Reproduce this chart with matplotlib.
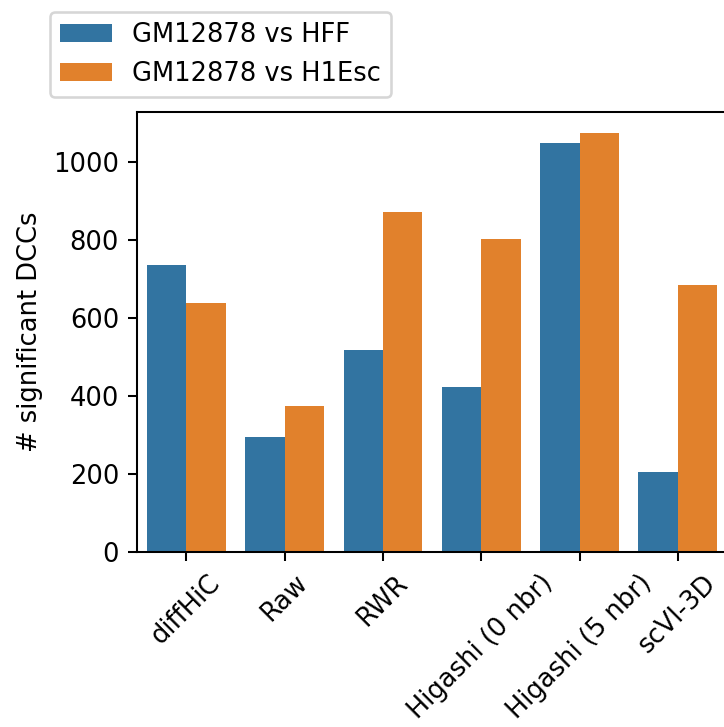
import matplotlib
matplotlib.use("Agg")
import numpy as np
import matplotlib.pyplot as plt

# values
methods = ["diffHiC", "Raw", "RWR", "Higashi (0 nbr)", "Higashi (5 nbr)", "scVI-3D"]
hff = [736, 295, 518, 423, 1047, 205]
h1esc = [639, 373, 872, 802, 1074, 685]
series_names = ["GM12878 vs HFF", "GM12878 vs H1Esc"]

colors = ["#3274a1", "#e1812c"]

# the reference looks like a default-styled figure saved at a high dpi
dpi = 185
fig = plt.figure(figsize=(724 / dpi, 727 / dpi), dpi=dpi)
ax = fig.add_axes([137 / 724, 175 / 727, 590 / 724, 440 / 727])

x = np.arange(len(methods))
w = 0.4
ax.bar(x - w / 2, hff, width=w, color=colors[0], label=series_names[0])
ax.bar(x + w / 2, h1esc, width=w, color=colors[1], label=series_names[1])

ax.set_xlim(-0.5, len(methods) - 0.5)
ax.set_ylim(0, max(hff + h1esc) * 1.05)
ax.set_xticks(x)
ax.set_xticklabels(methods, rotation=45)
ax.set_ylabel("# significant DCCs")

fig.legend(loc="upper left", bbox_to_anchor=(50 / 724, 1 - 12 / 727),
           borderaxespad=0)

fig.savefig("out.png", dpi=dpi)
